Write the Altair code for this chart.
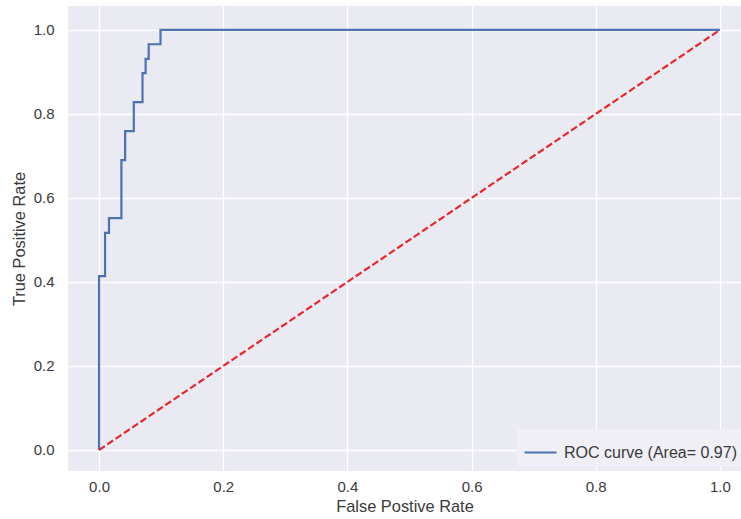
import altair as alt
import pandas as pd

# ROC curve corner points
fpr = [0.0, 0.0, 0.0097, 0.0097, 0.016, 0.016, 0.036, 0.036, 0.042, 0.042,
       0.056, 0.056, 0.070, 0.070, 0.075, 0.075, 0.080, 0.080, 0.099, 0.099, 1.0]
tpr = [0.0, 0.414, 0.414, 0.517, 0.517, 0.552, 0.552, 0.690, 0.690, 0.759,
       0.759, 0.828, 0.828, 0.897, 0.897, 0.931, 0.931, 0.966, 0.966, 1.0, 1.0]
roc_label = "ROC curve (Area= 0.97)"

diag_x = [0.0, 1.0]
diag_y = [0.0, 1.0]

x_ticks = [0.0, 0.2, 0.4, 0.6, 0.8, 1.0]
y_ticks = [0.0, 0.2, 0.4, 0.6, 0.8, 1.0]

roc_df = pd.DataFrame({"fpr": fpr, "tpr": tpr, "order": list(range(len(fpr))),
                       "series": [roc_label] * len(fpr)})
diag_df = pd.DataFrame({"fpr": diag_x, "tpr": diag_y, "order": [0, 1]})

FONT = "Liberation Sans"
TXT = "#3a3a3a"

x_scale = alt.Scale(domain=[-0.05, 1.034], nice=False, zero=False)
y_scale = alt.Scale(domain=[-0.05, 1.057], nice=False, zero=False)

x_enc = alt.X("fpr:Q", scale=x_scale,
              axis=alt.Axis(values=x_ticks, format=".1f", title="False Postive Rate"))
y_enc = alt.Y("tpr:Q", scale=y_scale,
              axis=alt.Axis(values=y_ticks, format=".1f", title="True Positive Rate"))

roc = alt.Chart(roc_df).mark_line(strokeWidth=2.2).encode(
    x=x_enc,
    y=y_enc,
    order="order:Q",
    color=alt.Color("series:N", scale=alt.Scale(domain=[roc_label], range=["#4C72B0"]),
                    legend=alt.Legend(title=None)),
)

diag = alt.Chart(diag_df).mark_line(strokeWidth=2.2, strokeDash=[7, 3], color="#e8262d").encode(
    x=alt.X("fpr:Q", scale=x_scale),
    y=alt.Y("tpr:Q", scale=y_scale),
    order="order:Q",
)

chart = alt.layer(roc, diag).properties(
    width=673, height=465,
    padding={"left": 68, "top": 6, "right": 0, "bottom": 48},
    autosize=alt.AutoSizeParams(type="none"),
).configure_view(
    stroke=None, fill="#EAEAF2"
).configure_axis(
    grid=True, gridColor="white", gridWidth=1.3,
    domain=False, ticks=False,
    labelFont=FONT, labelFontSize=15, labelColor=TXT,
    titleFont=FONT, titleFontSize=16.4, titleColor=TXT, titleFontWeight="normal",
).configure_axisX(
    labelPadding=8, titlePadding=4,
).configure_axisY(
    labelPadding=14, titlePadding=6,
).configure_legend(
    orient="none", legendX=449, legendY=423,
    padding=6, fillColor="#EFEFF5", cornerRadius=3,
    labelFont=FONT, labelFontSize=16, labelColor=TXT, labelLimit=400,
    symbolType="stroke", symbolStrokeWidth=2.2, symbolSize=1024,
    labelOffset=6,
)

chart.save("out.html", embed_options={"renderer": "svg", "actions": False})
